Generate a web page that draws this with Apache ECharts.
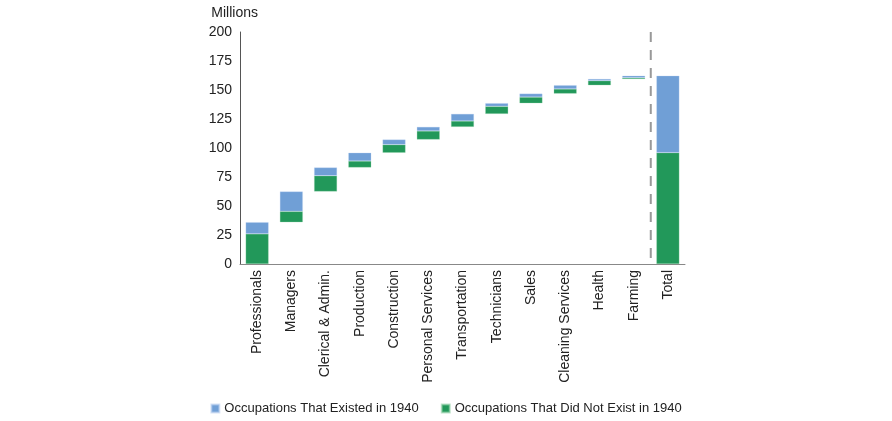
<!DOCTYPE html>
<html>
<head>
<meta charset="utf-8">
<script src="https://cdn.jsdelivr.net/npm/echarts@6/dist/echarts.min.js"></script>
<style>html,body{margin:0;padding:0;background:#fff}#c{width:892px;height:421px}</style>
</head>
<body>
<div id="c"></div>
<script>
var categories = ['Professionals','Managers','Clerical & Admin.','Production','Construction','Personal Services','Transportation','Technicians','Sales','Cleaning Services','Health','Farming','Total'];
var didNotExist = [26, 9.4, 13.6, 5.6, 7.0, 7.4, 5.1, 6.5, 5.3, 4.0, 3.9, 1.1];
var existed = [10, 17.1, 7.1, 7.1, 4.4, 3.5, 6.1, 2.7, 3.0, 3.2, 1.5, 1.7];
var totalDidNotExist = 96;
var totalExisted = 66.3;
var yTicks = [0, 25, 50, 75, 100, 125, 150, 175, 200];
// separator between 'Farming' and 'Total' (category index position)
var separatorPos = 11.5;

var base = [], greens = [], blues = [];
var run = 0;
for (var i = 0; i < didNotExist.length; i++) {
  base.push(run);
  greens.push(didNotExist[i]);
  blues.push(existed[i]);
  run += didNotExist[i] + existed[i];
}
base.push(0); greens.push(totalDidNotExist); blues.push(totalExisted);

var FONT = 'Liberation Sans, Arial, sans-serif';
var chart = echarts.init(document.getElementById('c'));
chart.setOption({
  animation: false,
  textStyle: {fontFamily: FONT},
  grid: {left: 240, right: 207, top: 32, bottom: 157},
  legend: {
    bottom: 1, left: 'center', itemWidth: 8, itemHeight: 8, itemGap: 22,
    icon: 'rect',
    textStyle: {fontSize: 13, color: '#222', fontFamily: FONT},
    data: ['Occupations That Existed in 1940', 'Occupations That Did Not Exist in 1940']
  },
  xAxis: [{
    type: 'category', data: categories,
    axisLine: {onZero: false, lineStyle: {color: '#888', width: 1}},
    axisTick: {show: false},
    axisLabel: {rotate: 90, fontSize: 14, color: '#222', margin: 6, interval: 0}
  }, {
    type: 'value', min: -0.5, max: categories.length - 0.5, show: false
  }],
  yAxis: {
    type: 'value', min: yTicks[0], max: yTicks[yTicks.length - 1], interval: 25,
    name: 'Millions', nameLocation: 'end', nameGap: 12,
    nameTextStyle: {fontSize: 14, color: '#222', align: 'right', padding: [0, -18, 0, 0]},
    axisLine: {show: true, onZero: false, lineStyle: {color: '#555', width: 1}},
    axisTick: {show: false},
    splitLine: {show: false},
    axisLabel: {fontSize: 14, color: '#222', margin: 8}
  },
  series: [
    {name: 'base', type: 'bar', stack: 's', data: base, barWidth: '67%',
     itemStyle: {color: 'transparent'}, silent: true},
    {name: 'Occupations That Did Not Exist in 1940', type: 'bar', stack: 's', data: greens,
     itemStyle: {color: '#22985a', borderColor: 'rgba(150,210,170,0.6)', borderWidth: 0.5}},
    {name: 'Occupations That Existed in 1940', type: 'bar', stack: 's', data: blues,
     itemStyle: {color: '#709fd6', borderColor: 'rgba(190,210,240,0.6)', borderWidth: 0.5}},
    {name: 'separator', type: 'line', xAxisIndex: 1, silent: true, symbol: 'none',
     data: [[separatorPos, yTicks[yTicks.length - 1]], [separatorPos, yTicks[0]]],
     lineStyle: {color: '#999', type: [10, 8], width: 2}, z: 1}
  ]
});
</script>
</body>
</html>
